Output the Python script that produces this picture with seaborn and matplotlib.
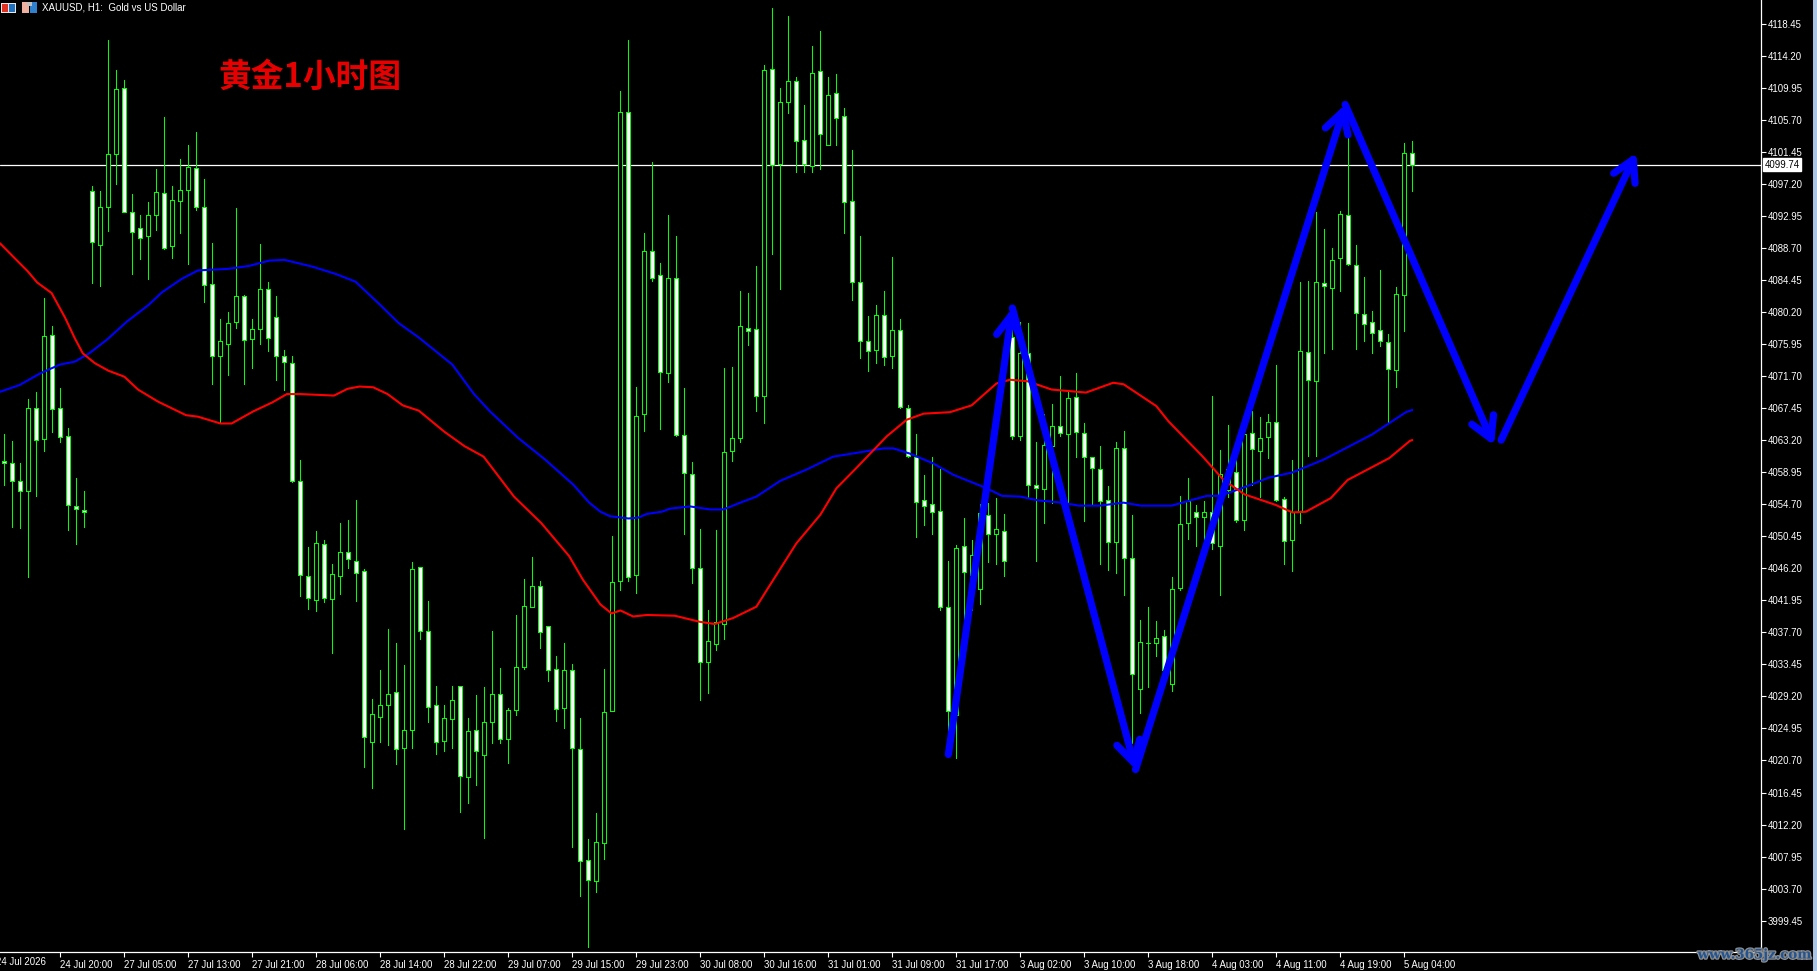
import matplotlib
matplotlib.use('Agg')
import matplotlib.pyplot as plt
import matplotlib.patheffects as pe
from matplotlib.patches import Rectangle
import numpy as np
import seaborn as sns

# XAUUSD H1 candles
highs = [
    4064.0, 4063.1, 4060.1, 4068.6, 4069.6, 4082.0, 4078.3, 4070.1, 4064.8, 4058.2, 4056.4,
    4096.9, 4096.3, 4116.2, 4112.3, 4111.0, 4095.8, 4093.0, 4094.8, 4099.2, 4106.1,
    4096.9, 4100.5, 4102.4, 4104.1, 4097.8, 4089.3, 4079.3, 4080.2, 4094.0, 4082.5,
    4079.3, 4089.2, 4084.1, 4082.3, 4075.1, 4074.3, 4060.5, 4049.0, 4051.2, 4049.9,
    4046.7, 4052.2, 4052.6, 4055.2, 4046.1, 4028.9, 4032.7, 4038.2, 4036.3, 4033.4,
    4047.0, 4046.4, 4041.9, 4030.6, 4028.0, 4030.6, 4030.6, 4026.4, 4029.4, 4030.4,
    4037.9, 4033.0, 4027.7, 4040.0, 4044.8, 4047.7, 4044.5, 4038.6, 4034.6, 4036.3,
    4033.5, 4026.4, 4010.3, 4013.8, 4032.9, 4050.5, 4109.5, 4116.3, 4070.3, 4090.6,
    4100.1, 4086.7, 4093.0, 4090.3, 4070.1, 4060.3, 4051.4, 4040.6, 4051.3, 4072.8,
    4072.9, 4083.0, 4082.7, 4086.3, 4113.0, 4120.5, 4109.9, 4119.5, 4111.4, 4107.7,
    4115.4, 4117.5, 4111.3, 4111.8, 4107.3, 4101.7, 4090.3, 4079.7, 4081.1, 4083.0,
    4087.5, 4079.2, 4067.9, 4064.0, 4058.5, 4061.0, 4059.4, 4047.1, 4049.3, 4052.8,
    4050.0, 4054.7, 4054.9, 4055.5, 4053.4, 4078.1, 4078.9, 4078.7, 4062.9, 4066.7,
    4068.0, 4071.7, 4069.9, 4072.1, 4065.5, 4061.0, 4062.4, 4057.1, 4062.9, 4064.4,
    4053.3, 4039.4, 4041.1, 4039.2, 4038.0, 4045.0, 4055.8, 4058.2, 4054.6, 4055.1,
    4069.1, 4061.9, 4065.2, 4060.5, 4064.3, 4067.1, 4066.3, 4066.7, 4073.1, 4055.6,
    4060.5, 4084.2, 4084.3, 4093.4, 4091.2, 4088.7, 4093.6, 4105.0, 4089.1, 4084.8,
    4080.3, 4085.8, 4077.3, 4083.5, 4102.6, 4102.9,
]
lows = [
    4057.3, 4051.7, 4051.6, 4045.0, 4055.8, 4061.8, 4064.3, 4063.0, 4051.3, 4049.4, 4051.7,
    4084.0, 4083.7, 4090.9, 4097.1, 4093.4, 4085.2, 4087.2, 4084.5, 4091.0, 4088.6,
    4087.3, 4090.7, 4086.5, 4093.7, 4081.5, 4070.7, 4065.4, 4071.8, 4078.0, 4070.7,
    4072.8, 4076.0, 4075.0, 4071.1, 4069.9, 4057.7, 4042.5, 4040.8, 4040.5, 4041.7,
    4034.9, 4042.8, 4046.2, 4041.9, 4019.8, 4017.0, 4023.2, 4022.8, 4020.2, 4011.6,
    4022.4, 4036.8, 4025.8, 4021.6, 4022.0, 4022.3, 4013.9, 4015.1, 4017.4, 4010.4,
    4023.0, 4023.0, 4020.4, 4026.7, 4032.9, 4041.0, 4035.6, 4031.2, 4025.9, 4025.0,
    4009.2, 4002.7, 3996.0, 4003.3, 4007.6, 4027.2, 4043.3, 4044.5, 4042.9, 4064.4,
    4084.3, 4064.7, 4070.9, 4063.7, 4050.8, 4044.3, 4028.7, 4029.6, 4035.4, 4036.8,
    4060.4, 4062.9, 4075.8, 4067.1, 4065.5, 4087.9, 4083.2, 4106.6, 4098.7, 4098.7,
    4098.8, 4099.1, 4102.4, 4102.4, 4090.6, 4081.8, 4074.1, 4072.3, 4073.4, 4073.2,
    4072.7, 4067.5, 4061.0, 4050.3, 4052.0, 4050.8, 4040.7, 4024.8, 4021.0, 4039.3,
    4040.7, 4041.5, 4047.0, 4046.8, 4045.2, 4063.4, 4063.2, 4055.6, 4047.2, 4052.2,
    4054.9, 4063.7, 4054.9, 4061.0, 4052.5, 4054.6, 4046.7, 4046.0, 4045.6, 4042.6,
    4023.0, 4027.0, 4030.5, 4034.6, 4032.3, 4029.9, 4043.3, 4050.1, 4049.1, 4050.0,
    4048.7, 4042.6, 4055.7, 4052.3, 4051.3, 4057.3, 4055.7, 4060.8, 4055.1, 4046.7,
    4045.8, 4052.2, 4061.1, 4061.1, 4074.7, 4075.3, 4083.0, 4086.4, 4075.3, 4076.4,
    4074.7, 4075.7, 4065.5, 4070.3, 4077.6, 4096.3,
]
opens = [
    4060.4, 4060.1, 4057.8, 4056.5, 4067.4, 4063.4, 4077.2, 4067.4, 4063.8, 4054.5, 4053.9,
    4096.2, 4089.1, 4094.1, 4101.1, 4109.9, 4093.4, 4091.3, 4090.3, 4093.0, 4096.0,
    4088.9, 4094.9, 4096.4, 4099.3, 4094.1, 4083.9, 4074.4, 4076.0, 4078.9, 4082.3,
    4076.6, 4077.9, 4083.2, 4079.5, 4074.3, 4073.4, 4057.8, 4045.2, 4042.0, 4049.4,
    4042.1, 4045.2, 4048.4, 4047.1, 4045.8, 4023.1, 4026.5, 4028.0, 4029.8, 4022.3,
    4024.7, 4046.3, 4037.9, 4028.0, 4023.3, 4026.2, 4030.6, 4018.5, 4024.7, 4021.4,
    4025.8, 4029.5, 4023.5, 4027.4, 4033.1, 4041.1, 4043.8, 4038.5, 4032.8, 4027.7,
    4032.7, 4022.2, 4007.5, 4004.7, 4009.8, 4027.2, 4044.5, 4106.7, 4045.3, 4066.7,
    4088.3, 4085.1, 4072.1, 4084.7, 4063.9, 4058.7, 4046.2, 4033.8, 4036.1, 4038.8,
    4061.7, 4063.5, 4078.0, 4077.9, 4069.0, 4112.4, 4099.8, 4108.0, 4110.8, 4103.0,
    4099.5, 4112.1, 4102.4, 4109.2, 4106.2, 4094.9, 4084.2, 4076.3, 4075.2, 4079.8,
    4074.3, 4077.8, 4067.4, 4061.0, 4055.3, 4054.7, 4053.8, 4041.1, 4026.8, 4049.1,
    4045.3, 4043.4, 4053.3, 4050.8, 4051.1, 4076.9, 4063.8, 4074.7, 4057.2, 4056.7,
    4062.4, 4065.1, 4064.0, 4068.9, 4064.2, 4060.9, 4059.3, 4055.2, 4049.7, 4062.2,
    4047.6, 4030.2, 4036.3, 4036.3, 4037.2, 4030.8, 4043.6, 4052.2, 4053.7, 4053.0,
    4053.7, 4049.1, 4056.6, 4059.0, 4052.6, 4064.2, 4061.7, 4063.6, 4065.6, 4055.4,
    4049.9, 4053.7, 4074.9, 4071.0, 4084.0, 4083.4, 4087.3, 4093.0, 4086.4, 4079.9,
    4078.9, 4077.8, 4076.2, 4072.5, 4082.4, 4101.3,
]
closes = [
    4060.1, 4057.8, 4056.4, 4067.4, 4063.2, 4077.0, 4067.3, 4063.6, 4054.6, 4054.0, 4053.7,
    4089.5, 4094.1, 4101.1, 4109.8, 4093.4, 4090.8, 4090.0, 4093.0, 4096.1, 4088.7,
    4095.0, 4096.4, 4099.4, 4094.1, 4083.8, 4074.4, 4076.3, 4078.7, 4082.3, 4076.5,
    4077.9, 4083.2, 4076.7, 4074.3, 4073.5, 4057.8, 4045.3, 4042.2, 4049.5, 4042.2,
    4045.4, 4048.4, 4047.4, 4045.6, 4023.8, 4026.9, 4028.1, 4029.5, 4022.2, 4024.7,
    4046.1, 4037.9, 4027.8, 4023.1, 4026.3, 4028.7, 4018.6, 4024.6, 4022.0, 4025.8,
    4029.5, 4023.5, 4027.4, 4033.1, 4041.2, 4043.8, 4037.7, 4032.7, 4027.5, 4032.7,
    4022.4, 4007.4, 4004.9, 4009.9, 4027.1, 4044.4, 4106.7, 4045.0, 4066.4, 4088.3,
    4084.7, 4072.2, 4084.7, 4063.9, 4058.8, 4046.2, 4033.8, 4036.5, 4039.1, 4061.6,
    4063.5, 4078.3, 4077.7, 4069.0, 4112.3, 4099.7, 4108.0, 4110.8, 4102.9, 4099.8,
    4111.9, 4103.8, 4109.0, 4105.9, 4094.8, 4084.1, 4076.3, 4075.0, 4079.8, 4074.2,
    4077.8, 4067.6, 4061.1, 4055.0, 4054.4, 4053.7, 4041.1, 4027.3, 4048.9, 4045.7,
    4048.0, 4053.5, 4050.8, 4051.4, 4047.2, 4063.8, 4074.7, 4057.3, 4056.8, 4062.6,
    4065.1, 4064.1, 4068.8, 4064.3, 4061.0, 4059.5, 4055.1, 4049.7, 4062.2, 4047.6,
    4032.2, 4036.4, 4036.3, 4037.0, 4032.7, 4043.4, 4052.1, 4055.1, 4053.0, 4053.7,
    4049.5, 4058.7, 4059.3, 4052.6, 4064.0, 4062.0, 4063.5, 4065.6, 4055.3, 4049.8,
    4053.7, 4075.0, 4071.2, 4084.2, 4083.6, 4087.1, 4093.2, 4086.5, 4080.0, 4078.6,
    4077.4, 4076.3, 4072.6, 4082.6, 4101.3, 4099.74,
]

# moving averages, read at the bends of each line (bar number, price)
blue_bars = [-0.55, 1.9, 4.4, 6.9, 8.8, 10.6, 12.8, 15.3, 18.0, 19.7, 22.2, 24.2, 27.9, 30.6, 33.1, 35.0,
             38.5, 41.5, 43.9, 46.9, 49.3, 51.8, 56.0, 58.7, 60.7, 64.2, 67.6, 71.1, 73.1, 74.5, 75.7,
             78.0, 79.2, 80.3, 82.2, 83.2, 85.7, 88.2, 89.9, 92.0, 94.0, 97.0, 100.3, 103.6, 106.5,
             109.9, 111.1, 113.2, 116.1, 118.6, 122.8, 124.7, 127.0, 129.2, 132.2, 134.3, 136.9,
             139.9, 142.1, 145.9, 150.3, 152.0, 155.4, 158.0, 161.0, 164.9, 170.9, 175.2, 176.0]
blue_ma = [4069.6, 4070.5, 4072.0, 4073.2, 4073.6, 4074.7, 4076.5, 4078.9, 4081.1, 4082.8, 4084.6, 4085.7,
           4085.9, 4086.3, 4087.0, 4087.1, 4086.2, 4085.2, 4084.2, 4081.2, 4078.7, 4076.8, 4073.2, 4069.3,
           4067.0, 4063.5, 4060.6, 4057.3, 4054.9, 4053.7, 4053.1, 4052.8, 4052.9, 4053.4, 4053.7, 4054.1,
           4054.4, 4054.0, 4054.0, 4054.9, 4055.7, 4057.8, 4059.3, 4061.0, 4061.5, 4062.1, 4062.1, 4061.4,
           4060.1, 4058.6, 4056.8, 4055.8, 4055.7, 4055.2, 4054.9, 4054.5, 4054.5, 4054.9, 4054.5, 4054.5,
           4055.8, 4055.8, 4057.1, 4058.2, 4058.9, 4060.6, 4063.9, 4066.9, 4067.2]
red_bars = [-0.55, 1.4, 2.9, 4.1, 5.9, 7.6, 8.8, 9.8, 11.3, 13.0, 15.0, 16.7, 19.2, 22.7, 24.2, 27.0, 28.4,
            31.1, 33.5, 35.3, 37.0, 41.2, 42.9, 44.4, 46.1, 47.9, 49.8, 51.8, 55.0, 57.5, 59.9, 63.7,
            67.1, 70.6, 72.3, 74.5, 75.9, 77.0, 78.6, 80.3, 83.8, 86.9, 88.8, 91.1, 94.0, 95.3, 99.0,
            102.0, 104.0, 106.5, 110.3, 112.8, 114.9, 118.2, 120.9, 124.0, 125.7, 127.9, 130.9, 135.2,
            138.6, 139.9, 144.0, 145.5, 149.8, 152.4, 155.0, 158.9, 161.0, 162.7, 165.8, 167.9, 173.1,
            175.7, 176.0]
red_ma = [4089.3, 4087.2, 4085.6, 4084.1, 4082.7, 4079.4, 4076.7, 4074.7, 4073.4, 4072.4, 4071.6, 4069.9,
          4068.3, 4066.5, 4066.3, 4065.4, 4065.4, 4067.0, 4068.2, 4069.3, 4069.3, 4069.1, 4070.0, 4070.3,
          4070.2, 4069.3, 4067.8, 4067.1, 4064.3, 4062.4, 4061.0, 4055.7, 4052.2, 4047.8, 4044.7, 4041.4,
          4040.2, 4040.6, 4039.8, 4040.0, 4039.9, 4039.1, 4038.8, 4039.6, 4041.1, 4043.3, 4049.5, 4053.3,
          4056.8, 4059.5, 4063.7, 4065.9, 4066.7, 4066.9, 4067.8, 4070.7, 4071.2, 4071.0, 4069.9, 4069.5,
          4070.8, 4070.6, 4067.7, 4065.7, 4061.0, 4057.9, 4056.0, 4054.6, 4053.6, 4053.7, 4055.5, 4057.9,
          4060.8, 4063.1, 4063.2]

# hand drawn arrows: start bar, start price, end bar, end price
arrow_x0 = [118.0, 126.0, 141.4, 167.6, 187.1]
arrow_y0 = [4021.5, 4080.7, 4019.5, 4107.7, 4063.2]
arrow_x1 = [126.0, 141.4, 167.6, 186.2, 204.0]
arrow_y1 = [4080.7, 4019.5, 4107.7, 4062.5, 4101.3]

price_ticks = [round(3999.45 + 4.25 * n, 2) for n in range(29)]
time_bars = list(range(7, 176, 8))
time_labels = ['24 Jul 20:00', '27 Jul 05:00', '27 Jul 13:00', '27 Jul 21:00', '28 Jul 06:00', '28 Jul 14:00',
               '28 Jul 22:00', '29 Jul 07:00', '29 Jul 15:00', '29 Jul 23:00', '30 Jul 08:00', '30 Jul 16:00',
               '31 Jul 01:00', '31 Jul 09:00', '31 Jul 17:00', '3 Aug 02:00', '3 Aug 10:00', '3 Aug 18:00',
               '4 Aug 03:00', '4 Aug 11:00', '4 Aug 19:00', '5 Aug 04:00']
last_price = 4099.74

W, H = 1817, 971
LIME = '#00ff00'
ui_font = 'Liberation Sans'

sns.set_theme(style='dark', rc={'axes.facecolor': 'black', 'figure.facecolor': 'black'})
plt.rcParams['font.family'] = ['Noto Sans CJK SC', 'DejaVu Sans']

fig = plt.figure(figsize=(W / 100, H / 100), dpi=100)
ax = fig.add_axes([0, (H - 952.3) / H, 1760.7 / W, 952.3 / H])
ax.set_xlim(-0.55, 219.54)
ax.set_ylim(3995.26, 4121.567)

bars = np.arange(len(opens))
o = np.array(opens)
c = np.array(closes)
up = c > o

# price line sits behind the candles
ax.axhline(last_price, color='white', lw=0.9, zorder=1)

ax.vlines(bars, lows, highs, color=LIME, lw=0.7, zorder=2, antialiased=False)
ax.bar(bars[up], (c - o)[up], bottom=o[up], width=0.5, facecolor='black', edgecolor=LIME,
       linewidth=0.7, zorder=3, antialiased=False)
ax.bar(bars[~up], (o - c)[~up], bottom=c[~up], width=0.5, facecolor='white', edgecolor=LIME,
       linewidth=0.7, zorder=3, antialiased=False)

sns.lineplot(x=blue_bars, y=blue_ma, color='#0000ff', linewidth=1.5, ax=ax, estimator=None, sort=False, zorder=4)
sns.lineplot(x=red_bars, y=red_ma, color='#ff0000', linewidth=1.5, ax=ax, estimator=None, sort=False, zorder=4)

for x0, y0, x1, y1 in zip(arrow_x0, arrow_y0, arrow_x1, arrow_y1):
    ax.annotate('', xy=(x1, y1), xytext=(x0, y0), zorder=5,
                arrowprops=dict(arrowstyle='->,head_length=15,head_width=8.5', mutation_scale=1,
                                color='#0000ff', lw=5.2, shrinkA=0, shrinkB=0))

# axes in the terminal style: white on the right and the bottom only
for side in ['top', 'left']:
    ax.spines[side].set_visible(False)
for side in ['right', 'bottom']:
    ax.spines[side].set_color('white')
    ax.spines[side].set_linewidth(0.9)
ax.yaxis.tick_right()
ax.set_yticks(price_ticks)
ax.set_yticklabels([f'{p:.2f}' for p in price_ticks], fontfamily=ui_font)
ax.set_xticks(time_bars)
ax.set_xticklabels(time_labels, ha='left', fontfamily=ui_font)
ax.tick_params(axis='both', colors='white', labelsize=6.9, length=3.6, width=0.8, pad=1.2,
               bottom=True, right=True, left=False, top=False)
ax.tick_params(axis='x', pad=2)
ax.set_xlabel('')
ax.set_ylabel('')
ax.grid(False)
ax.text(-1, -0.0105, '24 Jul 2026', transform=ax.get_xaxis_transform(), color='white', fontsize=6.9,
        fontfamily=ui_font, ha='left', va='center', clip_on=False)

# last price tag
ax.text(1.0021, last_price, f'{last_price:.2f}', transform=ax.get_yaxis_transform(), color='black', fontsize=6.9,
        fontfamily=ui_font, ha='left', va='center', clip_on=False,
        bbox=dict(facecolor='white', edgecolor='white', pad=0.9))

# window strip on the far right
fig.add_artist(Rectangle((1813 / W, 0), 4 / W, 1, transform=fig.transFigure, facecolor='#a9c4e4', edgecolor='none'))

# chart title and the small toolbar icons
fig.text(42.5 / W, 1 - 7.5 / H, 'XAUUSD, H1:  Gold vs US Dollar', color='white', fontsize=7.0,
         fontfamily=ui_font, va='center', ha='left')
for x, y, w, h, col in [(1, 3, 15, 10, '#e8e8e8'), (2, 4, 6, 8, '#e03020'), (9, 4, 6, 8, '#2070c0'),
                        (22, 2, 7, 11, '#f0b0a0'), (30, 2, 7, 11, '#3080d0'), (27, 2, 5, 4, '#c0c0c0')]:
    fig.add_artist(Rectangle((x / W, 1 - (y + h) / H), w / W, h / H, transform=fig.transFigure,
                             facecolor=col, edgecolor='none'))

fig.text(218.5 / W, 1 - 77 / H, '黄金1小时图', color='#e80000', fontsize=23.6, fontweight='bold',
         family=['Noto Sans CJK SC', 'DejaVu Sans'], va='center', ha='left')

# site watermark
fig.text(1812 / W, 1 - 955 / H, 'www.365jz.com', color='#24548f', fontsize=9.6, fontweight='bold',
         family='DejaVu Serif', va='center', ha='right',
         path_effects=[pe.withStroke(linewidth=1.8, foreground='#8f8f8f')])

fig.savefig('out.png', dpi=100, facecolor='black')
plt.close(fig)
